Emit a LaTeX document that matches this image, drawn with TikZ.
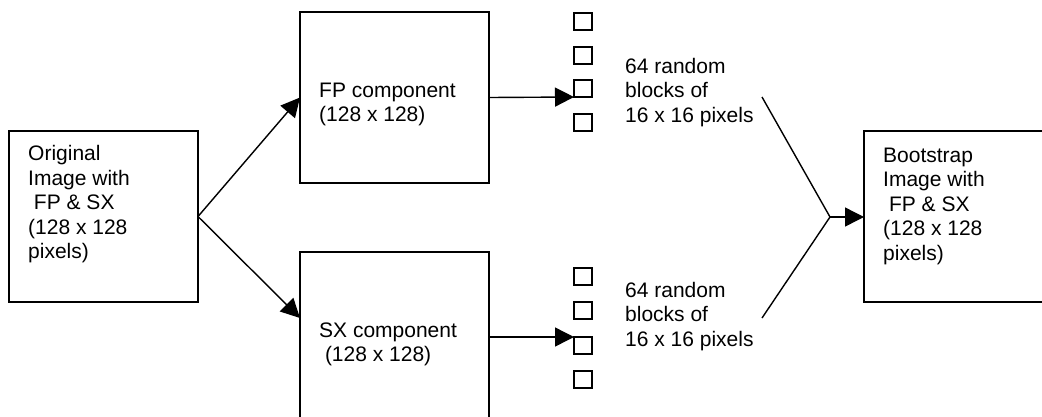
\documentclass[tikz,border=0pt]{standalone}
\usepackage{fontspec}
\setmainfont{Liberation Sans}
\usetikzlibrary{arrows.meta}
\begin{document}
\begin{tikzpicture}[x=1pt,y=-1pt,
  box/.style={draw,line width=1.4pt,anchor=north west,inner sep=0pt,outer sep=0pt},
  blk/.style={draw,line width=1.2pt,anchor=north west,minimum width=18pt,minimum height=17pt,inner sep=0pt,outer sep=0pt},
  txt/.style={anchor=base west,align=left,inner sep=0pt,font=\fontsize{21}{24.5}\selectfont},
  conn/.style={line width=1.4pt},
  arr/.style={line width=1.4pt,-{Triangle[length=19pt,width=19pt]}}]
\clip (0,0) rectangle (1042,416);
\fill[white] (0,0) rectangle (1042,416);
% boxes
\node[box,minimum width=189pt,minimum height=171pt] (orig) at (9,131) {};
\node[box,minimum width=189pt,minimum height=171pt] (fp) at (300,12) {};
\node[box,minimum width=189pt,minimum height=200pt] (sx) at (300,252) {};
\node[box,minimum width=200pt,minimum height=171pt] (boot) at (864,131) {};
% texts (anchor base = baseline of last line)
\node[txt] (origt) at (28,258.5) {Original\\Image with\\\hspace*{5.8pt}FP \& SX\\(128 x 128\\pixels)};
\node[txt] (fpt) at (319,121.5) {FP component\\(128 x 128)};
\node[txt] (sxt) at (319,361.5) {SX component\\\hspace*{5.8pt}(128 x 128)};
\node[txt] (bt) at (883,260) {Bootstrap\\Image with\\\hspace*{5.8pt}FP \& SX\\(128 x 128\\pixels)};
\node[txt] (r1) at (625,122) {64 random\\blocks of\\16 x 16 pixels};
\node[txt] (r2) at (625,346) {64 random\\blocks of\\16 x 16 pixels};
% small blocks
\node[blk] (a1) at (574,13) {};
\node[blk] (a2) at (574,47) {};
\node[blk] (a3) at (574,80) {};
\node[blk] (a4) at (574,114) {};
\node[blk] (b1) at (574,268) {};
\node[blk] (b2) at (574,302) {};
\node[blk] (b3) at (574,337) {};
\node[blk] (b4) at (574,371) {};
% connectors
\coordinate (sxin) at (300,318);
\coordinate (j1) at (762,97);
\coordinate (j2) at (762,318);
\coordinate (m) at (830,217);
\draw[arr] (orig.east) -- (fp.west);
\draw[arr] (orig.east) -- (sxin);
\draw[arr] (fp.east) -- (a3.south west);
\draw[arr] (sx.east |- b3.north west) -- (b3.north west);
\draw[conn] (j1) -- (m) -- (j2);
\draw[arr] (m) -- (boot.west |- m);
\end{tikzpicture}
\end{document}
